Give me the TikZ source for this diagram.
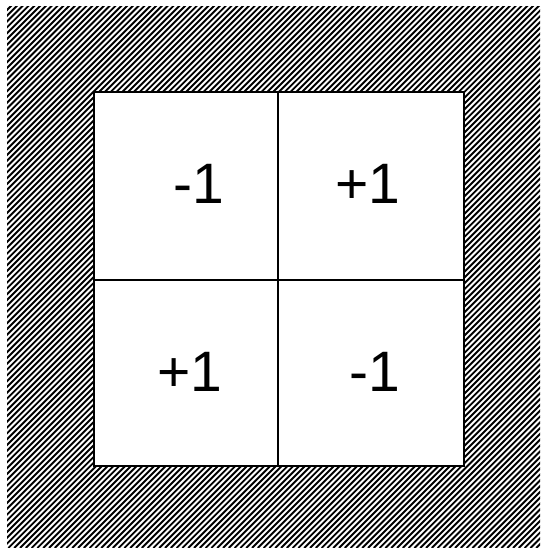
\documentclass[tikz,border=0pt]{standalone}
\usepackage{fontspec}
\setmainfont{Liberation Sans}
\begin{document}
\begin{tikzpicture}[x=1pt,y=1pt,
  hatchline/.style={line width=1.9pt},
  gridline/.style={line width=1.4pt},
  val/.style={font=\fontsize{57}{60}\selectfont, inner sep=0pt}]
\useasboundingbox (0,0) rectangle (540,548);
\fill[white] (0,0) rectangle (540,548);
% hatched frame
\begin{scope}
  \clip (7,0) rectangle (540,541);
  \foreach \i in {0,...,190} {
    \draw[hatchline] ({-560+5.8*\i},0) -- ({-560+5.8*\i+600},600);
  }
\end{scope}
% white board
\coordinate (bl) at (94,82);
\coordinate (tr) at (464,456);
\coordinate (ml) at (94,268);
\coordinate (mr) at (464,268);
\coordinate (mt) at (278,456);
\coordinate (mb) at (278,82);
\filldraw[fill=white, gridline] (bl) rectangle (tr);
\draw[gridline] (ml) -- (mr);
\draw[gridline] (mt) -- (mb);
% values
\node[val] (c11) at (199,364) {-1};
\node[val] (c12) at (368,364) {+1};
\node[val] (c21) at (190,176) {+1};
\node[val] (c22) at (375,176) {-1};
\end{tikzpicture}
\end{document}
